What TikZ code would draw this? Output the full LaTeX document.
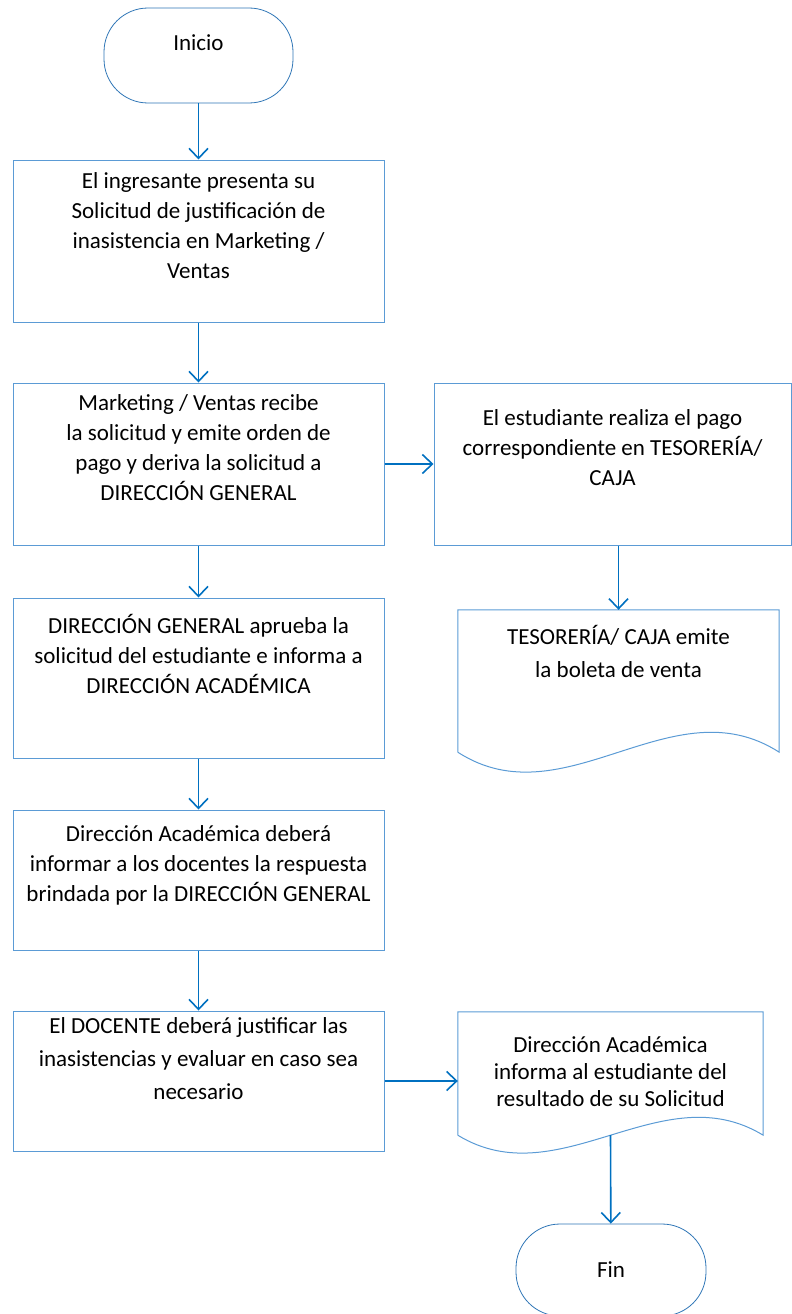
\documentclass[tikz,border=0pt]{standalone}
\usepackage{fontspec}
\setmainfont{Carlito}
\usepackage{tikz}
\usetikzlibrary{calc}
\usetikzlibrary{arrows.meta}
\definecolor{boxblue}{HTML}{5B9BD5}
\definecolor{termblue}{HTML}{2E75B6}
\definecolor{arrowblue}{HTML}{0070C0}
\newcommand{\docwave}[2] % node name, wave height in pt
{
	% outline of a document node, wavy bottom
	\draw[docline] (#1.south west) -- (#1.north west) -- (#1.north east) -- (#1.south east)
		.. controls ($(#1.south east)!0.333!(#1.south west)+(0,-#2)$) and ($(#1.south east)!0.667!(#1.south west)+(0,#2)$) .. (#1.south west);
}

\begin{document}
\begin{tikzpicture}[x=1pt, y=-1pt,
	txt/.style={font=\fontsize{23}{30}\selectfont, align=center},
	term/.style={txt, draw=termblue, line width=0.8pt, rounded corners=44pt, minimum width=189pt, minimum height=95pt},
	proc/.style={txt, draw=boxblue, line width=1pt, minimum width=371pt},
	docu/.style={txt, minimum width=#1},
	docline/.style={draw=boxblue, line width=1pt},
	arr/.style={draw=arrowblue, line width=1.6pt, -{Straight Barb[length=10pt,width=19pt]}}]
	\useasboundingbox (0,0) rectangle (792,1314);

	% left column
	\node[term, text depth=25pt] (inicio) at (198.5,55.5) {Inicio};
	\node[proc, minimum height=162pt, text depth=31pt] (ingreso) at (198.5,241)
		{El ingresante presenta su\\Solicitud de justificación de\\inasistencia en Marketing /\\Ventas};
	\node[proc, minimum height=162pt, text depth=33pt] (ventas) at (198.5,464)
		{Marketing / Ventas recibe\\la solicitud y emite orden de\\pago y deriva la solicitud a\\DIRECCIÓN GENERAL};
	\node[proc, minimum height=160pt, text depth=49pt] (general) at (198.5,678)
		{DIRECCIÓN GENERAL aprueba la\\solicitud del estudiante e informa a\\DIRECCIÓN ACADÉMICA};
	\node[proc, minimum height=140pt, text depth=33pt] (academica) at (198.5,880)
		{Dirección Académica deberá\\informar a los docentes la respuesta\\brindada por la DIRECCIÓN GENERAL};
	\node[proc, minimum height=140pt, text depth=45pt, font=\fontsize{23}{33}\selectfont] (docente) at (198.5,1081)
		{El DOCENTE deberá justificar las\\inasistencias y evaluar en caso sea\\necesario};

	% right column
	\node[proc, minimum width=357pt, minimum height=162pt, text depth=33pt] (pago) at (612.5,464)
		{El estudiante realiza el pago\\correspondiente en TESORERÍA/\\CAJA};
	\node[docu=321pt, minimum height=142pt, text depth=59pt, font=\fontsize{23}{33}\selectfont] (boleta) at (618.5,681)
		{TESORERÍA/ CAJA emite\\la boleta de venta};
	\docwave{boleta}{69}
	\node[docu=305pt, minimum height=123pt, text depth=3pt, font=\fontsize{23}{27}\selectfont] (informa) at (610.5,1073.5)
		{Dirección Académica\\informa al estudiante del\\resultado de su Solicitud};
	\docwave{informa}{62}
	\node[term, minimum width=190pt, minimum height=92pt] (fin) at (611,1270) {Fin};

	% connectors
	\draw[arr] (inicio) -- (ingreso);
	\draw[arr] (ingreso) -- (ventas);
	\draw[arr] (ventas) -- (pago);
	\draw[arr] (ventas) -- (general);
	\draw[arr] (general) -- (academica);
	\draw[arr] (academica) -- (docente);
	\draw[arr] (pago.south -| boleta.north) -- (boleta.north);
	\draw[arr] (docente.east) -- (docente.east -| informa.west);
	\draw[arr] (informa.south) -- (fin);
\end{tikzpicture}
\end{document}
